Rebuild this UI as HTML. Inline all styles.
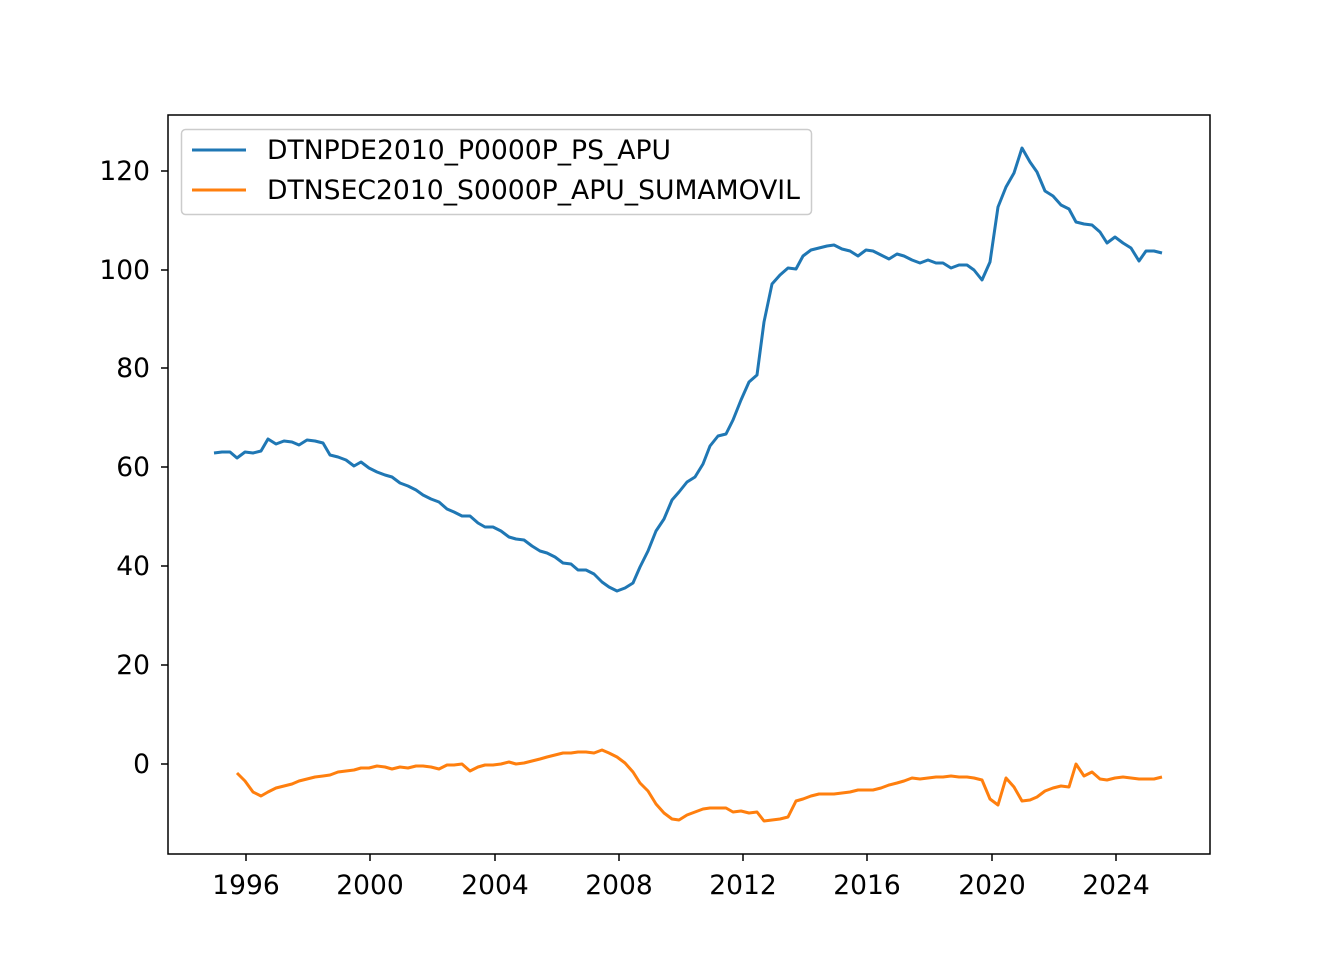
<!DOCTYPE html>
<html><head><meta charset="utf-8"><style>body{margin:0;background:#fff}svg{display:block}text{font-family:"DejaVu Sans","Liberation Sans",sans-serif;font-size:26.5px;fill:#000}</style></head><body>
<svg width="1344" height="960" xmlns="http://www.w3.org/2000/svg">
<rect width="1344" height="960" fill="#fff"/>
<polyline fill="none" stroke="#1f77b4" stroke-width="3" stroke-linejoin="round" points="214,453 222,452 230,452 237,458 245,452 253,453 261,451 268,439 276,444 284,441 292,442 299,445 307,440 315,441 323,443 330,455 338,457 346,460 354,466 361,462 369,468 377,472 385,475 392,477 400,483 408,486 416,490 423,495 431,499 439,502 447,509 454,512 462,516 470,516 478,523 485,527 493,527 501,531 509,537 516,539 524,540 532,546 540,551 547,553 555,557 563,563 571,564 578,570 586,570 594,574 602,582 609,587 617,591 625,588 633,583 640,567 648,551 656,531 664,519 672,500 679,492 687,482 695,477 703,464 710,446 718,436 726,434 733,420 741,400 749,382 757,375 764,322 772,284 780,275 788,268 796,269 803,256 811,250 819,248 827,246 834,245 842,249 850,251 858,256 866,250 873,251 881,255 889,259 897,254 904,256 912,260 920,263 928,260 936,263 943,263 951,268 959,265 967,265 974,270 982,280 990,262 998,207 1006,187 1014,173 1022,148 1030,162 1037,172 1045,191 1053,196 1061,205 1069,209 1076,222 1084,224 1092,225 1100,232 1107,243 1115,237 1123,243 1131,248 1139,261 1146,251 1154,251 1162,253"/>
<polyline fill="none" stroke="#ff7f0e" stroke-width="3" stroke-linejoin="round" points="237,773 245,781 253,792 261,796 268,792 276,788 284,786 292,784 299,781 307,779 315,777 323,776 330,775 338,772 346,771 354,770 361,768 369,768 377,766 385,767 392,769 400,767 408,768 416,766 423,766 431,767 439,769 447,765 454,765 462,764 470,771 478,767 485,765 493,765 501,764 509,762 516,764 524,763 532,761 540,759 547,757 555,755 563,753 571,753 578,752 586,752 594,753 602,750 609,753 617,757 625,763 633,772 640,783 648,791 656,804 664,813 672,819 679,820 687,815 695,812 703,809 710,808 718,808 726,808 733,812 741,811 749,813 757,812 764,821 772,820 780,819 788,817 796,801 803,799 811,796 819,794 827,794 834,794 842,793 850,792 858,790 866,790 873,790 881,788 889,785 897,783 904,781 912,778 920,779 928,778 936,777 943,777 951,776 959,777 967,777 974,778 982,780 990,799 998,805 1006,778 1014,787 1022,801 1030,800 1037,797 1045,791 1053,788 1061,786 1069,787 1076,764 1084,776 1092,772 1100,779 1107,780 1115,778 1123,777 1131,778 1139,779 1146,779 1154,779 1162,777"/>
<rect x="168" y="115" width="1042" height="739" fill="none" stroke="#000" stroke-width="1.5"/>
<g stroke="#000" stroke-width="1.5">
<line x1="168" y1="764" x2="161" y2="764"/><line x1="168" y1="665" x2="161" y2="665"/><line x1="168" y1="566" x2="161" y2="566"/><line x1="168" y1="467" x2="161" y2="467"/><line x1="168" y1="368" x2="161" y2="368"/><line x1="168" y1="270" x2="161" y2="270"/><line x1="168" y1="171" x2="161" y2="171"/>
<line x1="246" y1="854" x2="246" y2="861"/><line x1="370" y1="854" x2="370" y2="861"/><line x1="495" y1="854" x2="495" y2="861"/><line x1="619" y1="854" x2="619" y2="861"/><line x1="743" y1="854" x2="743" y2="861"/><line x1="867" y1="854" x2="867" y2="861"/><line x1="992" y1="854" x2="992" y2="861"/><line x1="1116" y1="854" x2="1116" y2="861"/>
</g>
<g text-anchor="end">
<text x="150" y="773">0</text><text x="150" y="674">20</text><text x="150" y="575">40</text><text x="150" y="476">60</text><text x="150" y="377">80</text><text x="150" y="279">100</text><text x="150" y="180">120</text>
</g>
<g text-anchor="middle">
<text x="246" y="894">1996</text><text x="370" y="894">2000</text><text x="495" y="894">2004</text><text x="619" y="894">2008</text><text x="743" y="894">2012</text><text x="867" y="894">2016</text><text x="992" y="894">2020</text><text x="1116" y="894">2024</text>
</g>
<rect x="181.5" y="129.5" width="630" height="85" rx="4" fill="#fff" fill-opacity="0.8" stroke="#ccc" stroke-width="1.5"/>
<line x1="192" y1="150" x2="246" y2="150" stroke="#1f77b4" stroke-width="3"/>
<line x1="192" y1="190" x2="246" y2="190" stroke="#ff7f0e" stroke-width="3"/>
<text x="267" y="159" textLength="404" lengthAdjust="spacingAndGlyphs">DTNPDE2010_P0000P_PS_APU</text>
<text x="267" y="199" textLength="533" lengthAdjust="spacingAndGlyphs">DTNSEC2010_S0000P_APU_SUMAMOVIL</text>
</svg>
</body></html>
